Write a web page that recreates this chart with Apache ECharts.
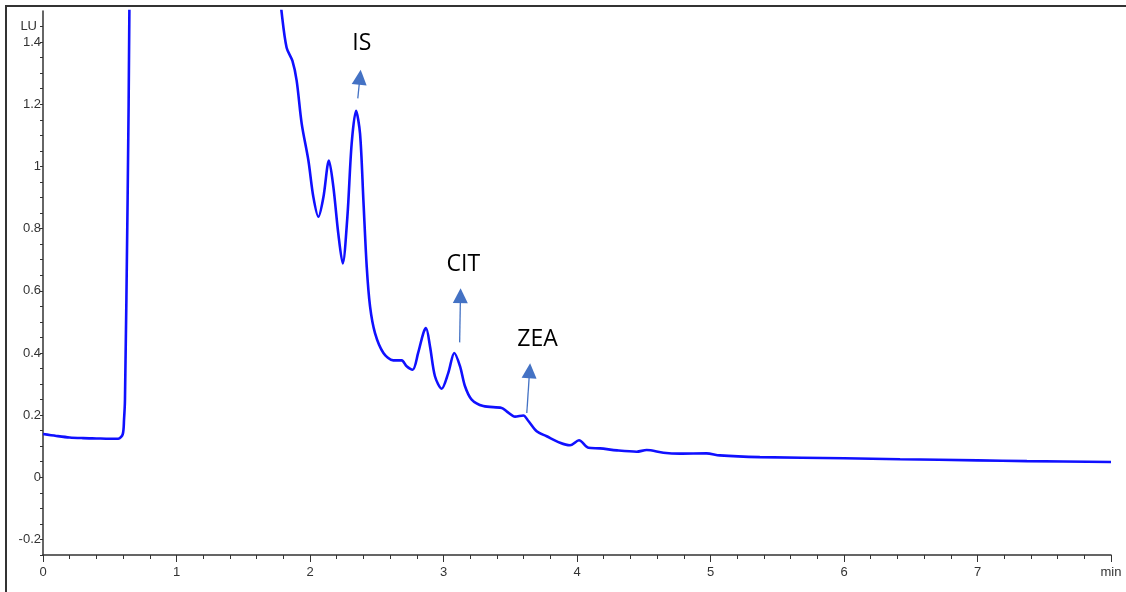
<!DOCTYPE html>
<html>
<head>
<meta charset="utf-8">
<script src="https://cdn.jsdelivr.net/npm/echarts@6/dist/echarts.min.js"></script>
<style>
  html, body { margin: 0; padding: 0; background: #ffffff; }
  #chart { width: 1126px; height: 592px; }
</style>
</head>
<body>
<div id="chart"></div>
<script>
  // retention time (min) and signal (LU)
  const times = [0, 0.1, 0.2, 0.3, 0.4, 0.5, 0.564, 0.597, 0.607, 0.614, 0.634, 0.647, 0.66, 0.8, 1.2, 1.6, 1.72, 1.76,
    1.788, 1.825, 1.868, 1.9, 1.938, 1.988, 2.025, 2.063, 2.1, 2.142, 2.175, 2.212, 2.245, 2.28, 2.312, 2.345, 2.375,
    2.4, 2.425, 2.45, 2.487, 2.55, 2.624, 2.687, 2.724, 2.769, 2.81, 2.849, 2.869, 2.899, 2.936, 2.986, 3.036, 3.081,
    3.124, 3.161, 3.211, 3.298, 3.436, 3.473, 3.536, 3.598, 3.636, 3.698, 3.773, 3.873, 3.948, 4.015, 4.085, 4.172,
    4.3, 4.447, 4.522, 4.647, 4.77, 4.97, 5.07, 5.37, 6.0, 6.42, 7.0, 7.37, 8.0];
  const signal = [0.139, 0.133, 0.128, 0.126, 0.125, 0.124, 0.124, 0.138, 0.186, 0.25, 0.9, 1.5, 3.0, 5.0, 4.0, 2.6, 1.9, 1.62,
    1.494, 1.382, 1.34, 1.276, 1.137, 1.019, 0.902, 0.838, 0.9, 1.019, 0.934, 0.784, 0.688, 0.838, 1.073, 1.179, 1.105,
    0.891, 0.677, 0.549, 0.464, 0.4, 0.376, 0.376, 0.357, 0.346, 0.4, 0.464, 0.48, 0.421, 0.325, 0.285, 0.336, 0.4,
    0.357, 0.293, 0.25, 0.229, 0.223, 0.212, 0.195, 0.199, 0.181, 0.148, 0.132, 0.111, 0.103, 0.119, 0.095, 0.093,
    0.0865, 0.0823, 0.0876, 0.079, 0.076, 0.077, 0.0705, 0.065, 0.061, 0.058, 0.0545, 0.052, 0.049];

  // peak annotations: arrow start, arrow head, label position (data coords)
  const peakNames = ['IS', 'CIT', 'ZEA'];
  const arrowFrom = [[2.358, 1.219], [3.121, 0.434], [3.624, 0.207]];
  const arrowTo = [[2.374, 1.287], [3.127, 0.584], [3.645, 0.343]];
  const labelAt = [[2.388, 1.395], [3.149, 0.685], [3.704, 0.445]];

  const myChart = echarts.init(document.getElementById('chart'));

  const axisColor = '#333333';
  const labelFont = 'Liberation Sans';

  let seriesData = [];
  for (let i = 0; i < times.length; i++) {
    seriesData.push([times[i], signal[i]]);
  }
  let arrows = [];
  let labels = [];
  for (let i = 0; i < peakNames.length; i++) {
    arrows.push([{coord: arrowFrom[i]}, {coord: arrowTo[i]}]);
    labels.push({name: peakNames[i], coord: labelAt[i]});
  }

  const chartOption = {
    animation: false,
    grid: {left: 43, right: 15, top: 11, bottom: 37, containLabel: false},
    xAxis: [
      {
        type: 'value',
        position: 'bottom',
        min: 0,
        max: 8,
        interval: 0.2,
        axisLine: {show: true, onZero: false, lineStyle: {color: axisColor, width: 1.5}},
        axisTick: {show: true, length: 4, lineStyle: {color: axisColor}},
        splitLine: {show: false},
        axisLabel: {
          color: axisColor,
          fontSize: 13,
          fontFamily: labelFont,
          margin: 11,
          showMaxLabel: true,
          formatter: function (v) {
            if (Math.abs(v - 8) < 1e-6) return 'min';
            if (Math.abs(v - Math.round(v)) < 1e-6) return String(Math.round(v));
            return '';
          }
        }
      },
      {
        // longer ticks on whole minutes
        type: 'value',
        position: 'bottom',
        min: 0,
        max: 8,
        interval: 1,
        axisLine: {show: false, onZero: false},
        axisTick: {show: true, length: 7, lineStyle: {color: axisColor}},
        axisLabel: {show: false},
        splitLine: {show: false}
      }
    ],
    yAxis: {
      type: 'value',
      min: -0.25,
      max: 1.5,
      interval: 0.05,
      name: 'LU',
      nameLocation: 'end',
      nameGap: -22,
      nameTextStyle: {color: axisColor, fontSize: 13, fontFamily: labelFont, align: 'right', padding: [0, 6, 0, 0]},
      axisLine: {show: true, onZero: false, lineStyle: {color: axisColor, width: 1.5}},
      axisTick: {show: true, length: 3, lineStyle: {color: axisColor}},
      splitLine: {show: false},
      axisLabel: {
        color: axisColor,
        fontSize: 13,
        fontFamily: labelFont,
        margin: 2,
        showMaxLabel: false,
        formatter: function (v) {
          const k = v / 0.2;
          if (Math.abs(k - Math.round(k)) < 1e-6) return String(Math.round(v * 10) / 10);
          return '';
        }
      }
    },
    series: [
      {
        type: 'line',
        xAxisIndex: 0,
        data: seriesData,
        showSymbol: false,
        smooth: 0.3,
        clip: true,
        lineStyle: {color: '#1010ff', width: 2.6},
        markLine: {
          silent: true,
          symbol: ['none', 'triangle'],
          symbolSize: 15,
          label: {show: false},
          lineStyle: {color: '#4472c4', width: 1.3, type: 'solid'},
          itemStyle: {color: '#4472c4'},
          data: arrows
        },
        markPoint: {
          silent: true,
          symbol: 'circle',
          symbolSize: 0,
          label: {
            show: true,
            position: 'inside',
            formatter: '{b}',
            color: '#000000',
            fontSize: 23,
            fontFamily: 'Open Sans'
          },
          data: labels
        }
      }
    ],
    graphic: [
      {
        // outer frame of the original screenshot
        type: 'rect',
        silent: true,
        shape: {x: 6, y: 6, width: 1300, height: 800},
        style: {fill: 'none', stroke: '#333333', lineWidth: 2}
      }
    ]
  };

  myChart.setOption(chartOption);
</script>
</body>
</html>
